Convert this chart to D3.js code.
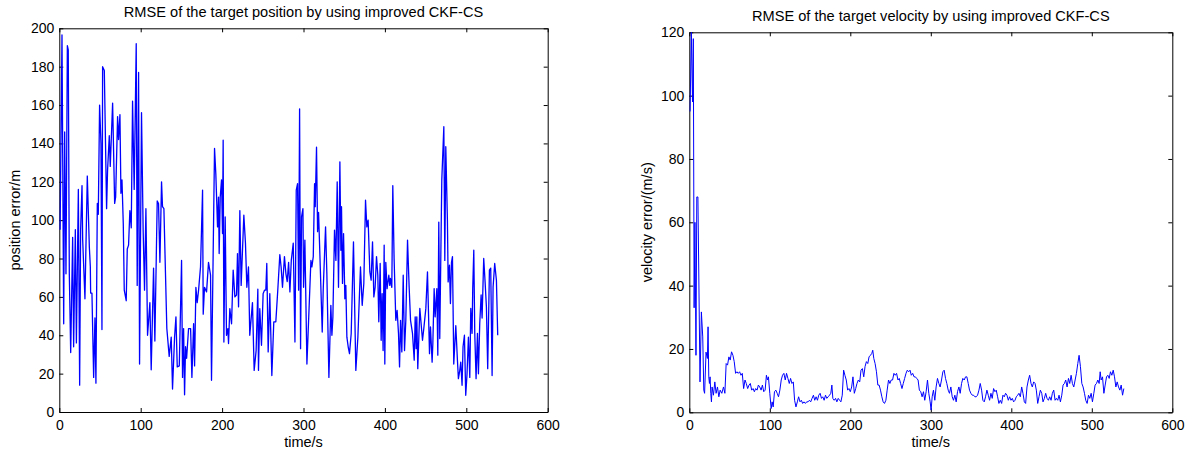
<!DOCTYPE html>
<html>
<head>
<meta charset="utf-8">
<script src="https://cdn.jsdelivr.net/npm/d3@7"></script>
<style>
  body { margin: 0; background: #fff; }
  svg { display: block; font-family: "Liberation Sans", Arial, sans-serif; }
  .axis text { font-size: 14px; fill: #000; }
  .axis path, .axis line { stroke: #000; }
</style>
</head>
<body>
<svg id="chart" width="1187" height="452"></svg>
<script>
// time ticks shared by both panels
const timeTicks = [0, 100, 200, 300, 400, 500, 600];
const posTicks = [0, 20, 40, 60, 80, 100, 120, 140, 160, 180, 200];
const velTicks = [0, 20, 40, 60, 80, 100, 120];

// [time/s, position error/m]
const positionSeries = [
  [1,95],[3.3,196.5],[5.4,46],[6.6,146],[8.2,72],[9.9,191],[11,188.7],[12.3,72],[14,31],[16.4,91],
  [17.6,34],[19.7,95],[21,36],[23.4,116],[25,14],[26.2,95],[27.9,118],[28.7,90],[31.5,59],[34.4,123],
  [36.9,86],[38.1,76],[38.5,62],[40.1,62],[42.2,18],[43.8,49],[45,15],[46.7,108.7],[47.9,103],[49.5,160],
  [51.2,140],[52.4,43],[53.2,180],[55.3,178],[58.1,106],[59.3,126],[61.4,144],[62.6,128],[65.5,161],[68,108.7],
  [69.2,112],[71.6,154],[72.8,142],[74.5,155],[75.7,114],[77,121],[78.6,98],[79.8,63.5],[82.2,58],[83.5,85],
  [85.1,87],[86.7,105],[88.4,96],[90,162],[92,116],[94.5,192],[95.7,66],[97.4,177],[98.6,25],[101,156],
  [103,95],[104.7,63.5],[106.4,106],[108.4,40],[111.3,57],[112.9,22],[115.8,75],[117.4,37],[120.3,110],[121.9,108.7],
  [123.6,78],[125.6,120],[126.8,107],[128.5,106],[132.1,43.5],[135,29],[137.5,39],[139.1,12],[141.6,39],[143.3,49.6],
  [144.9,23.5],[147.4,24],[150.2,79],[151.4,18],[152.7,43.5],[153.9,9],[155.1,34],[156.4,28],[158.8,43.5],[161.3,43.5],
  [162.9,18],[165,46],[166.2,24],[167.8,65],[169.4,57],[171.1,63.5],[173.5,75.7],[176,115.7],[176.8,51],[178.4,65],
  [180.9,62.6],[183.3,78],[185.8,71.3],[187,16.5],[190.7,137.4],[192.3,124],[194.4,96.5],[195.6,112],[196.4,82.6],[197.7,112],
  [199.3,121],[200.5,93],[201.3,141.7],[202.2,36.5],[203.8,101.7],[205.4,40],[207.1,43.5],[207.9,35.7],[209.5,53.9],[211.6,46],
  [213.6,74],[215.7,60],[217.7,61],[218.9,82.6],[220.2,54.8],[221.8,105],[223.4,66],[226.7,102.6],[228.7,88],[230.4,65],
  [232.4,75.6],[234,40],[237.3,57],[239.4,21.7],[241.8,32],[243.9,64],[244.7,21.7],[246.3,53.9],[248.4,34.8],[250.4,61.7],
  [252.1,63.5],[253.7,63.5],[254.9,77.4],[256.6,31.3],[258.6,61.7],[261.1,19],[263.5,47],[266,47],[268.4,63.5],[270.9,82],
  [272.5,75.6],[274.2,65],[276.6,81],[278.4,72],[280,68],[281.7,78],[283.3,62.6],[285,79],[287.4,88],[289.5,36.5],
  [291.1,115.7],[292.7,119],[294,63.5],[295.2,158],[296.4,33],[297.6,101.7],[299.3,106],[300.1,65],[301.7,89.6],[304.2,25],
  [306.2,47],[309.1,79],[310.3,75.6],[312,81],[313.6,119],[314.4,107],[316,138],[317.3,94],[318.5,104],[320.1,82.6],
  [323,41.7],[324.2,63.5],[327.1,96.5],[328.7,72],[331.2,18],[333.6,55.6],[334.9,40],[336.1,49.6],[338.1,94.8],[339.8,79],
  [341.4,120],[343,65],[344.7,130.4],[345.9,84.3],[346.7,107],[347.9,67],[349.2,93],[350.8,59],[352,66],[353.3,39],
  [354.9,34],[356.5,30.4],[358.6,40.9],[361.4,88.7],[364.3,21.7],[366.8,39],[370,75.6],[372.1,55.6],[374.1,67],[376.2,110.4],
  [377.8,96.5],[379.4,100],[381.5,73],[383.1,68.7],[384.8,88.7],[386.4,60],[388,65],[389.7,81],[391.3,71.3],[392.5,47],
  [394.2,77.4],[395.4,37.4],[396.6,61.7],[397.8,32],[399.1,87],[399.9,25],[401.1,78],[402.7,64.3],[404.8,71.3],[406,66],
  [406.8,69.6],[408.5,65],[409.7,118],[411.3,80],[413.4,47.8],[415,53],[416.7,41],[418,23.5],[419.2,47.8],[420.8,31.3],
  [422.5,71.3],[424.1,32],[425.7,47.8],[427.8,89.6],[429.8,65],[431.5,47.8],[433.9,41],[436,27],[437.2,49.6],[438.4,33],
  [439.2,49.6],[440.4,22.6],[442.9,54],[444.5,46],[446.2,37.4],[447.8,43.5],[450.3,54],[452.3,73],[454.8,30.4],[456,44.3],
  [458,26],[458.9,35.7],[460.5,64.3],[461.7,49.6],[463.8,64.3],[465,29.6],[466.2,99],[467.4,38.3],[469.9,121],[472.4,148.7],
  [473.6,79],[474.8,138.3],[476.8,100],[477.7,67.8],[479.3,76.5],[480.5,56.5],[481.8,78],[483,81],[484.6,25],[487.1,45],
  [489.1,27],[490.3,17.4],[492,21.7],[493.2,26],[494.8,13.9],[496,34],[497.7,40],[499.3,8.7],[500.9,19.9],[502.6,39],
  [504.3,18],[505.5,54],[507.1,41],[507.9,64.3],[509.2,84.3],[510.4,41],[512,17.4],[513.7,41],[514.9,19.9],[516.5,46],
  [518.2,61],[519.4,49],[521.4,80],[523.1,67.8],[524.7,54.8],[526.3,22.6],[528.4,74],[530,75],[531.7,19],[532.9,65],
  [534.9,77.4],[537,68.7],[538.6,40]
];

// [time/s, velocity error/(m/s)]
const velocitySeries = [
  [1,95],[2.5,120],[4,98],[5,118],[6,33],[7,60],[8.3,18],[9.3,68],[10.7,68],[13.3,9.6],
  [15,31.7],[16.7,23.8],[18,7],[19,6],[20.8,19],[22.5,17],[23.3,27],[24.2,11.2],[25,9.1],[25.8,11.2],
  [26.7,6],[27.5,3.3],[28.3,8],[30,5.4],[31.7,9.6],[33.3,6],[35,8],[36.7,4.9],[38.3,7],[40.4,6],
  [42.5,8],[44.2,6],[45.8,15.4],[47.5,14.9],[49.2,17.5],[50.8,16.5],[52.5,19.1],[54.2,18],[55.8,16],[57.5,12.3],
  [59.2,12.8],[60.8,12.3],[62.5,12.8],[64.2,11.7],[65.8,12.3],[67.5,7.5],[69.2,10.2],[70.8,9.1],[72.5,7.5],[74.2,8.6],
  [75.8,9.1],[77.5,7],[79.2,7.5],[80.8,6.5],[82.5,7.5],[84.2,7],[85.8,8.6],[87.5,8],[89.2,7],[90.8,8.6],
  [92.5,6.5],[94.2,7],[95.8,11.7],[97.1,10.2],[98.3,11.2],[100,6],[101.7,1.2],[102.9,3.3],[104.2,1.7],[105.8,6.5],
  [107.5,7],[109.2,6],[110.8,4.9],[112.5,7],[114.2,10.2],[115.8,11.7],[117.5,12.3],[119.2,10.2],[120.8,12.3],[122.5,10.7],
  [124.2,9.1],[125.8,10.7],[127.5,9.1],[129.2,9.6],[130.8,3.8],[132.5,1.7],[134.2,3.3],[135.8,4.9],[137.5,3.3],[139.2,3.8],
  [140.8,2.8],[142.5,3.3],[144.2,2.8],[145.8,3.3],[147.5,3.3],[149.2,3.8],[150.8,3.3],[152.5,4.4],[154.2,5.4],[155.8,3.8],
  [157.5,4.9],[159.2,3.8],[160.8,5.4],[162.5,6],[164.2,4.4],[165.8,4.9],[167.5,3.8],[169.2,5.4],[170.8,4.4],[172.5,4.9],
  [174.2,5.4],[175.8,6],[177.1,8.6],[178.3,4.4],[180,3.8],[181.7,4.4],[183.3,3.3],[185,4.4],[186.7,3.8],[188.3,3.3],
  [190,5.4],[191.7,13.3],[193.3,11.7],[195,10.2],[196.7,7],[198.3,7.5],[200,6.5],[201.7,8],[203.3,11.2],[205,6],
  [206.7,7.5],[208.3,9.1],[210,10.2],[211.7,9.6],[213.3,13.3],[215,13.8],[216.7,11.2],[218.3,14.4],[220,16],[221.7,15.4],
  [223.3,17.5],[225,18],[226.7,18.6],[227.9,19.6],[229.2,17],[230.8,15.4],[232.5,12.8],[234.2,8.6],[235.8,8.6],[237.5,7],
  [239.2,4.9],[240.8,3.3],[242.5,2.8],[244.2,3.8],[245.8,7],[247.5,10.2],[249.2,9.1],[250.8,10.2],[252.5,10.2],[254.2,12.3],
  [255.8,11.7],[257.5,12.3],[259.2,10.2],[260.8,10.7],[262.5,9.1],[264.2,7.5],[265.8,9.1],[267.5,10.7],[269.2,12.3],[270.8,13.3],
  [272.5,12.8],[274.2,13.3],[275.8,11.7],[277.5,12.3],[279.2,11.2],[280.8,11.2],[282.5,10.7],[284.2,10.2],[285.8,7],[287.5,6.5],
  [289.2,4.9],[290.9,6.5],[292.5,3.8],[294.2,6.5],[295.9,10.2],[297.5,6],[299.2,3.3],[300.4,0.7],[301.7,4.9],[303.3,7],
  [305,3.8],[306.6,8],[308.3,10.7],[310,9.1],[311.6,8],[313.3,10.2],[315,12.8],[316.6,13.3],[318.3,10.7],[319.9,9.1],
  [321.6,7],[323.2,6],[324.9,8],[326.6,4.9],[328.2,3.8],[329.9,5.4],[331.5,3.3],[333.2,6.5],[334.9,8],[336.5,6],
  [338.2,9.1],[339.8,10.7],[341.5,10.2],[343.2,11.2],[344.8,11.2],[346.5,9.1],[348.1,7],[349.8,6],[351.5,5.4],[353.1,5.4],
  [354.8,4.9],[356.4,4.9],[358.1,5.4],[359.8,7],[361.4,9.1],[363.1,7],[364.7,3.8],[366.4,3.3],[368,4.9],[369.7,7],
  [371.4,5.4],[373,3.8],[374.7,6],[376.3,4.4],[378,7.5],[379.7,6.5],[381.3,7],[383,4.9],[384.6,2.8],[386.3,3.8],
  [388,2.8],[389.6,5.4],[391.3,4.9],[392.9,6],[394.6,5.4],[396.3,3.8],[397.9,4.9],[399.6,3.8],[401.2,4.4],[402.9,3.3],
  [404.6,3.8],[406.2,4.9],[407.9,5.4],[409.5,6],[411.2,4.9],[412.9,8],[414.5,6],[416.2,3.3],[417.8,2.8],[419.5,8],
  [421.2,10.2],[422.8,11.7],[424.5,9.1],[426.1,8],[427.8,9.6],[429.5,9.1],[431.1,7],[432.8,2.8],[434.4,4.9],[436.1,7],
  [437.8,6],[439.4,3.3],[441.1,4.4],[442.7,6],[444.4,4.4],[446.1,3.8],[447.7,4.9],[449.4,3.8],[451,6],[452.7,7],
  [454.4,3.8],[456,4.4],[457.7,3.8],[459.3,5.4],[461,3.3],[462.7,5.4],[464.3,8.6],[466,9.1],[467.6,10.2],[469.3,8],
  [471,10.7],[472.6,9.1],[474.3,11.7],[475.9,9.1],[477.6,8],[479.3,10.2],[480.9,12.3],[482.6,15.4],[484.2,18],[485.9,14.4],
  [487.6,9.1],[489.2,8],[490.9,6],[492.5,3.8],[494.2,2.8],[495.9,5.4],[497.5,4.4],[499.2,6],[500.8,3.3],[502.5,6],
  [504.1,8.6],[505.8,9.1],[507.5,10.2],[509.1,9.1],[510.4,12.8],[511.6,10.2],[513.3,11.2],[515,6],[516.6,8.6],[518.3,11.2],
  [519.9,11.7],[521.6,10.7],[523.2,12.8],[524.9,11.7],[526.6,13.3],[528.2,11.2],[529.9,8],[531.5,9.6],[533.2,8],[534.9,7],
  [536.5,8.6],[538.2,5.4],[539.8,7.5]
];

const svg = d3.select("#chart");
svg.append("rect").attr("width", 1187).attr("height", 452).attr("fill", "#fff");

function drawPanel(opts) {
  const x = d3.scaleLinear().domain([0, 600]).range([opts.left, opts.right]);
  const y = d3.scaleLinear().domain([0, opts.yMax]).range([opts.bottom, opts.top]);
  const g = svg.append("g");

  g.append("g").attr("class", "axis")
    .attr("transform", `translate(0,${opts.bottom})`)
    .call(d3.axisBottom(x).tickValues(timeTicks).tickSizeInner(-4).tickSizeOuter(0).tickPadding(8));
  g.append("g").attr("class", "axis")
    .attr("transform", `translate(0,${opts.top})`)
    .call(d3.axisTop(x).tickValues(timeTicks).tickSizeInner(-4).tickSizeOuter(0).tickFormat(""));
  g.append("g").attr("class", "axis")
    .attr("transform", `translate(${opts.left},0)`)
    .call(d3.axisLeft(y).tickValues(opts.yTicks).tickSizeInner(-4).tickSizeOuter(0).tickPadding(5));
  g.append("g").attr("class", "axis")
    .attr("transform", `translate(${opts.right},0)`)
    .call(d3.axisRight(y).tickValues(opts.yTicks).tickSizeInner(-4).tickSizeOuter(0).tickFormat(""));

  const line = d3.line().x(d => x(d[0])).y(d => y(d[1]));
  g.append("path")
    .datum(opts.data)
    .attr("d", line)
    .attr("fill", "none")
    .attr("stroke", "#0000ff")
    .attr("stroke-width", opts.lineWidth)
    .attr("stroke-linejoin", "round");

  const cx = (opts.left + opts.right) / 2;
  g.append("text")
    .attr("x", cx).attr("y", opts.top - 11)
    .attr("text-anchor", "middle")
    .attr("font-size", 14.6)
    .text(opts.title);
  g.append("text")
    .attr("x", cx).attr("y", 447)
    .attr("text-anchor", "middle")
    .attr("font-size", 14.5)
    .text("time/s");
  g.append("text")
    .attr("transform", `translate(${opts.labelX},${(opts.top + opts.bottom) / 2}) rotate(-90)`)
    .attr("text-anchor", "middle")
    .attr("font-size", 14.5)
    .text(opts.yLabel);
}

drawPanel({
  left: 59.3, right: 547.7, top: 28.3, bottom: 412,
  yMax: 200, yTicks: posTicks, data: positionSeries, lineWidth: 1.3,
  title: "RMSE of the target position by using improved CKF-CS",
  yLabel: "position error/m", labelX: 20
});

drawPanel({
  left: 689.3, right: 1172.3, top: 32.3, bottom: 412.3,
  yMax: 120, yTicks: velTicks, data: velocitySeries, lineWidth: 1,
  title: "RMSE of the target velocity by using improved CKF-CS",
  yLabel: "velocity error/(m/s)", labelX: 652
});
</script>
</body>
</html>
